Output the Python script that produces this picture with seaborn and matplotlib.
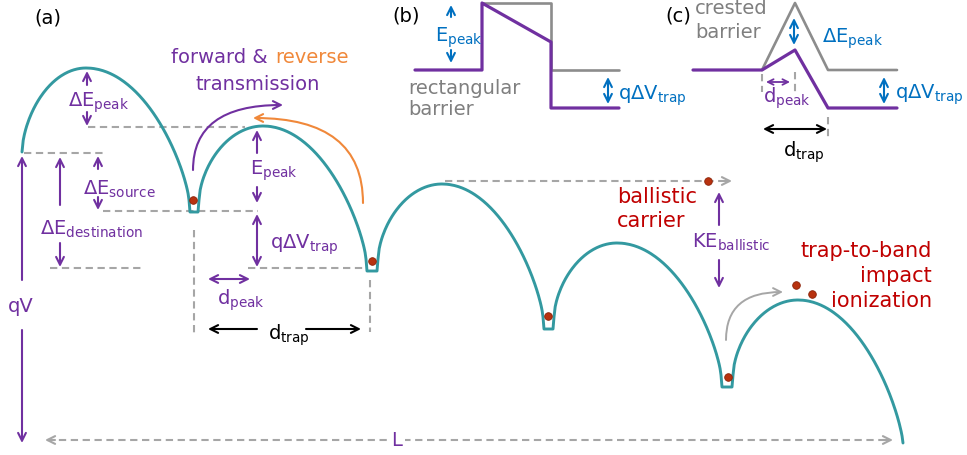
import numpy as np
import pandas as pd
import seaborn as sns
import matplotlib.pyplot as plt

# colours
TEAL = '#3399a0'
PURPLE = '#7030a0'
ORANGE = '#f0883a'
GRAY = '#a6a6a6'
DGRAY = '#8c8c8c'
BLUE = '#0070c0'
RED = '#c00000'
BEAD = '#b8320f'

# ---- panel (a): energy landscape key points (pixel coords, y downward)
start_pt = (22, 152)
end_pt = (903, 443)
peak_x = [86, 263, 442, 617, 798]
peak_y = [68, 126, 184, 243, 300]
trap_left = [189, 366, 543, 721]
trap_right = [199, 378, 554, 733]
trap_top = [200, 259, 317, 375]
trap_bottom = [212, 271, 329, 387]

bead_x = [193, 372, 548, 728, 708, 796, 812]
bead_y = [200, 261, 316, 377, 181, 285, 294]

# ---- panel (b): rectangular barrier
rect_gray_x = [482, 551, 551, 619]
rect_gray_y = [3, 3, 70, 70]
rect_purple_x = [415, 482, 482, 551, 551, 619]
rect_purple_y = [70, 70, 3, 42, 108, 108]

# ---- panel (c): crested barrier
crest_gray_x = [762, 795, 828, 897]
crest_gray_y = [70, 3, 70, 70]
crest_purple_x = [693, 762, 795, 828, 897]
crest_purple_y = [70, 70, 50, 108, 108]

sns.set_theme(style='white')
plt.rcParams['font.family'] = ['DejaVu Sans']
plt.rcParams['mathtext.fontset'] = 'dejavusans'
plt.rcParams['mathtext.default'] = 'regular'

fig = plt.figure(figsize=(9.67, 4.55), dpi=100)
ax = fig.add_axes([0, 0, 1, 1])


def arch(x0, y0, xp, yp, x1, y1, n=80):
    # rounded hump, vertical at the trap walls
    u = np.linspace(1, 0, n) ** 1.5
    lx = xp - (xp - x0) * u
    ly = y0 - (y0 - yp) * (1 - u ** 2) ** 0.6
    u = np.linspace(0, 1, n) ** 0.7
    u = 1 - (1 - u) ** 1.0
    rx = xp + (x1 - xp) * u
    ry = y1 - (y1 - yp) * (1 - u ** 2) ** 0.75
    return np.r_[lx, rx], np.r_[ly, ry]


# build one continuous band-edge path
px, py = [], []
for i in range(5):
    x0, y0 = start_pt if i == 0 else (trap_right[i - 1], trap_top[i - 1])
    x1, y1 = end_pt if i == 4 else (trap_left[i], trap_top[i])
    ax_, ay_ = arch(x0, y0, peak_x[i], peak_y[i], x1, y1)
    px += list(ax_)
    py += list(ay_)
    if i < 4:
        px += [trap_left[i] + 1, trap_right[i] - 1, trap_right[i]]
        py += [trap_bottom[i], trap_bottom[i], trap_top[i]]
band = pd.DataFrame({'x': px, 'y': py})
sns.lineplot(data=band, x='x', y='y', sort=False, estimator=None,
             color=TEAL, linewidth=2.1, ax=ax)

# barrier sketches
sns.lineplot(x=rect_gray_x, y=rect_gray_y, sort=False, estimator=None,
             color=DGRAY, linewidth=1.9, ax=ax)
sns.lineplot(x=rect_purple_x, y=rect_purple_y, sort=False, estimator=None,
             color=PURPLE, linewidth=2.3, ax=ax)
sns.lineplot(x=crest_gray_x, y=crest_gray_y, sort=False, estimator=None,
             color=DGRAY, linewidth=1.9, ax=ax)
sns.lineplot(x=crest_purple_x, y=crest_purple_y, sort=False, estimator=None,
             color=PURPLE, linewidth=2.3, ax=ax)


def dash(x0, y0, x1, y1, color=GRAY):
    ax.plot([x0, x1], [y0, y1], color=color, lw=1.5, dashes=(3.5, 2.2),
            solid_capstyle='butt', zorder=1)


def arrow(x0, y0, x1, y1, color=PURPLE, style='->', lw=1.5, conn=None, ms=14):
    props = dict(arrowstyle=style, color=color, lw=lw, shrinkA=0, shrinkB=0,
                 mutation_scale=ms)
    if conn:
        props['connectionstyle'] = conn
    ax.annotate('', xy=(x1, y1), xytext=(x0, y0), arrowprops=props)


def label(x, y, s, color=PURPLE, size=14, ha='left', va='baseline', **kw):
    ax.text(x, y, s, color=color, fontsize=size, ha=ha, va=va, **kw)


# gray dashed guides (a)
dash(88, 127, 245, 127)
dash(24, 153, 106, 153)
dash(103, 211, 258, 211)
dash(50, 268, 145, 268)
dash(248, 268, 363, 268)
dash(194, 230, 194, 335)
dash(370, 280, 370, 332)
dash(445, 181, 727, 181)
arrow(724, 181, 732, 181, color=GRAY)
dash(47, 440, 889, 440)
arrow(55, 440, 45, 440, color=GRAY)
arrow(883, 440, 893, 440, color=GRAY)
label(397, 440, 'L', va='center', ha='center',
      bbox=dict(facecolor='white', edgecolor='none', pad=2))

# gray dashed guides (c)
dash(762, 74, 762, 92)
dash(795, 72, 795, 92)
dash(828, 117, 828, 140)

# energy arrows (a)
arrow(87, 85, 87, 71)
arrow(87, 112, 87, 126)
arrow(98, 169, 98, 156)
arrow(98, 197, 98, 210)
arrow(60, 205, 60, 157)
arrow(60, 243, 60, 267)
arrow(22, 280, 22, 156)
arrow(22, 330, 22, 443)
arrow(257, 153, 257, 130)
arrow(257, 187, 257, 203)
arrow(257, 214, 257, 267, style='<->')
arrow(208, 279, 250, 279, style='<->')
arrow(719, 225, 719, 192)
arrow(719, 260, 719, 288)
arrow(257, 329, 208, 329, color='black')
arrow(306, 329, 361, 329, color='black')

# curved transmission arrows
arrow(193, 170, 283, 105, conn='angle3,angleA=90,angleB=0')
arrow(363, 203, 253, 118, color=ORANGE, conn='angle3,angleA=90,angleB=0')
arrow(726, 340, 783, 292, color=GRAY, lw=1.4,
      conn='angle3,angleA=90,angleB=0')

# arrows (b), (c)
arrow(451, 17, 451, 5, color=BLUE)
arrow(451, 50, 451, 63, color=BLUE)
arrow(608, 77, 608, 104, color=BLUE, style='<->')
arrow(794, 18, 794, 45, color=BLUE, style='<->')
arrow(884, 77, 884, 104, color=BLUE, style='<->')
arrow(766, 82, 790, 82, style='<->', lw=1.3, ms=10)
arrow(763, 129, 827, 129, color='black', style='<->')

# beads
sns.scatterplot(x=bead_x, y=bead_y, color=BEAD, edgecolor='#8a2208',
                linewidth=0.6, s=30, zorder=5, ax=ax)

# text (a)
label(48, 18, '(a)', color='black', ha='center', va='center')
label(268, 63, 'forward &', ha='right')
label(275, 63, 'reverse', color=ORANGE)
label(258, 90, 'transmission', ha='center')
label(68, 107, r'$\Delta E_{peak}$')
label(83, 195, r'$\Delta E_{source}$')
label(40, 235, r'$\Delta E_{destination}$')
label(8, 312, 'qV')
label(250, 175, r'$E_{peak}$')
label(270, 249, r'$q\Delta V_{trap}$')
label(217, 305, r'$d_{peak}$')
label(268, 340, r'$d_{trap}$', color='black')
label(692, 248, r'$KE_{ballistic}$')
label(617, 203, 'ballistic', color=RED, size=15)
label(617, 227, 'carrier', color=RED, size=15)
label(932, 257, 'trap-to-band', color=RED, size=15, ha='right')
label(932, 282, 'impact', color=RED, size=15, ha='right')
label(932, 307, 'ionization', color=RED, size=15, ha='right')

# text (b)
label(406, 16, '(b)', color='black', ha='center', va='center')
label(435, 42, r'$E_{peak}$', color=BLUE)
label(408, 94, 'rectangular', color='#7f7f7f')
label(408, 115, 'barrier', color='#7f7f7f')
label(618, 100, r'$q\Delta V_{trap}$', color=BLUE)

# text (c)
label(678, 16, '(c)', color='black', ha='center', va='center')
label(695, 14, 'crested', color='#7f7f7f')
label(695, 38, 'barrier', color='#7f7f7f')
label(822, 43, r'$\Delta E_{peak}$', color=BLUE)
label(895, 99, r'$q\Delta V_{trap}$', color=BLUE)
label(763, 103, r'$d_{peak}$')
label(783, 157, r'$d_{trap}$', color='black')

ax.set_xlim(0, 967)
ax.set_ylim(455, 0)
ax.axis('off')

plt.savefig('out.png', dpi=100)
